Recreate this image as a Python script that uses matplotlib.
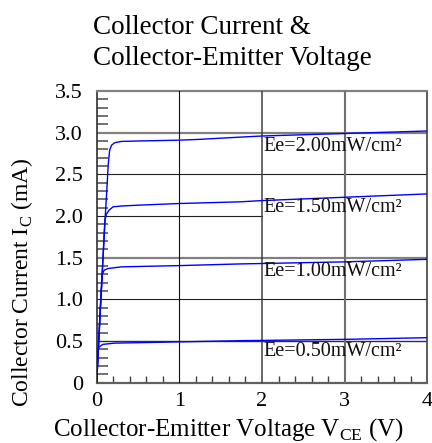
import matplotlib
matplotlib.use("Agg")
import matplotlib.pyplot as plt
from matplotlib.ticker import MultipleLocator

plt.rcParams['font.family'] = ['Liberation Serif', 'DejaVu Serif']
plt.rcParams['mathtext.fontset'] = 'custom'
plt.rcParams['mathtext.rm'] = 'Liberation Serif'

# ---- data ----
vce_200 = [0, 0.05, 0.097, 0.116, 0.14, 0.157, 0.18, 0.22, 0.3, 0.5, 1.0, 1.25, 1.73, 2.0, 3.0, 4.0]
ic_200 = [0, 0.99, 1.89, 2.20, 2.62, 2.79, 2.85, 2.88, 2.895, 2.90, 2.91, 2.92, 2.946, 2.96, 2.99, 3.02]

vce_150 = [0, 0.05, 0.10, 0.116, 0.15, 0.197, 0.3, 0.5, 1.0, 1.73, 2.0, 3.0, 4.0]
ic_150 = [0, 0.99, 1.95, 2.02, 2.07, 2.11, 2.12, 2.13, 2.15, 2.17, 2.185, 2.225, 2.265]

vce_100 = [0, 0.048, 0.068, 0.09, 0.137, 0.3, 1.0, 1.73, 2.0, 3.0, 4.0]
ic_100 = [0, 0.99, 1.30, 1.35, 1.37, 1.39, 1.405, 1.425, 1.43, 1.45, 1.48]

vce_050 = [0, 0.008, 0.03, 0.076, 0.22, 0.5, 1.0, 1.73, 3.0, 4.0]
ic_050 = [0, 0.37, 0.43, 0.46, 0.475, 0.48, 0.49, 0.504, 0.52, 0.54]

labels = ["Ee=2.00mW/cm²", "Ee=1.50mW/cm²", "Ee=1.00mW/cm²", "Ee=0.50mW/cm²"]
label_y = [2.84, 2.10, 1.33, 0.38]
label_x = 2.02

y_ticks = [0, 0.5, 1.0, 1.5, 2.0, 2.5, 3.0, 3.5]
y_ticklabels = ["0", "0.5", "1.0", "1.5", "2.0", "2.5", "3.0", "3.5"]
x_ticks = [0, 1, 2, 3, 4]
x_ticklabels = ["0", "1", "2", "3", "4"]

title = "Collector Current &\nCollector-Emitter Voltage"
xlabel = "Collector-Emitter Voltage V$_\\mathregular{CE}$ (V)"
ylabel = "Collector Current I$_\\mathregular{C}$ (mA)"

# ---- figure ----
fig = plt.figure(figsize=(4.32, 4.43), dpi=100)
ax = fig.add_axes([0.2238, 0.1361, 0.7653, 0.6585])
ax.set_xlim(0, 4)
ax.set_ylim(0, 3.5)

# grid lines
hl_style = {0.5: ('#303030', 1.0), 1.0: ('#202020', 0.8), 1.5: ('#808080', 1.6),
            2.5: ('#202020', 0.8), 3.0: ('#808080', 1.6)}
for yv, (c, lw) in hl_style.items():
    ax.axhline(yv, color=c, lw=lw, zorder=1)
ax.plot([0, 2], [2.0, 2.0], color='#202020', lw=0.8, zorder=1)
vl_style = {1: ('#101010', 0.8), 2: ('#404040', 1.1), 3: ('#707070', 1.5)}
for xv, (c, lw) in vl_style.items():
    ax.axvline(xv, color=c, lw=lw, zorder=3)

for xs, ys in [(vce_200, ic_200), (vce_150, ic_150), (vce_100, ic_100), (vce_050, ic_050)]:
    ax.plot(xs, ys, color='#0000ff', lw=1.0, zorder=4)

for lab, yv in zip(labels, label_y):
    ax.text(label_x, yv, lab, fontsize=14.5, ha='left', va='center', zorder=5, color='#111111')

ax.set_xticks(x_ticks)
ax.set_xticklabels(x_ticklabels)
ax.set_yticks(y_ticks)
ax.set_yticklabels(y_ticklabels)
ax.xaxis.set_minor_locator(MultipleLocator(0.2))
ax.yaxis.set_minor_locator(MultipleLocator(0.1))
ax.tick_params(axis='both', which='major', length=0, labelsize=16)
ax.tick_params(axis='y', which='major', pad=10)
ax.tick_params(axis='x', which='major', pad=7)
ax.tick_params(axis='y', which='minor', direction='in', length=8, width=1.4, color='#707070')
ax.tick_params(axis='x', which='minor', direction='in', length=5, width=1.0, color='#404040')

for side, (c, lw) in {'top': ('#808080', 1.6), 'bottom': ('#606060', 1.6),
                      'left': ('#303030', 1.2), 'right': ('#404040', 1.2)}.items():
    ax.spines[side].set_color(c)
    ax.spines[side].set_linewidth(lw)

ax.set_xlabel(xlabel, fontsize=18)
ax.xaxis.set_label_coords(0.399, -0.114)
ax.set_ylabel(ylabel, fontsize=17)
ax.yaxis.set_label_coords(-0.187, 0.345)

fig.text(93 / 432, 1 - 15 / 443, title, fontsize=19.5, ha='left', va='top', linespacing=1.33)

fig.savefig("out.png", dpi=100)
